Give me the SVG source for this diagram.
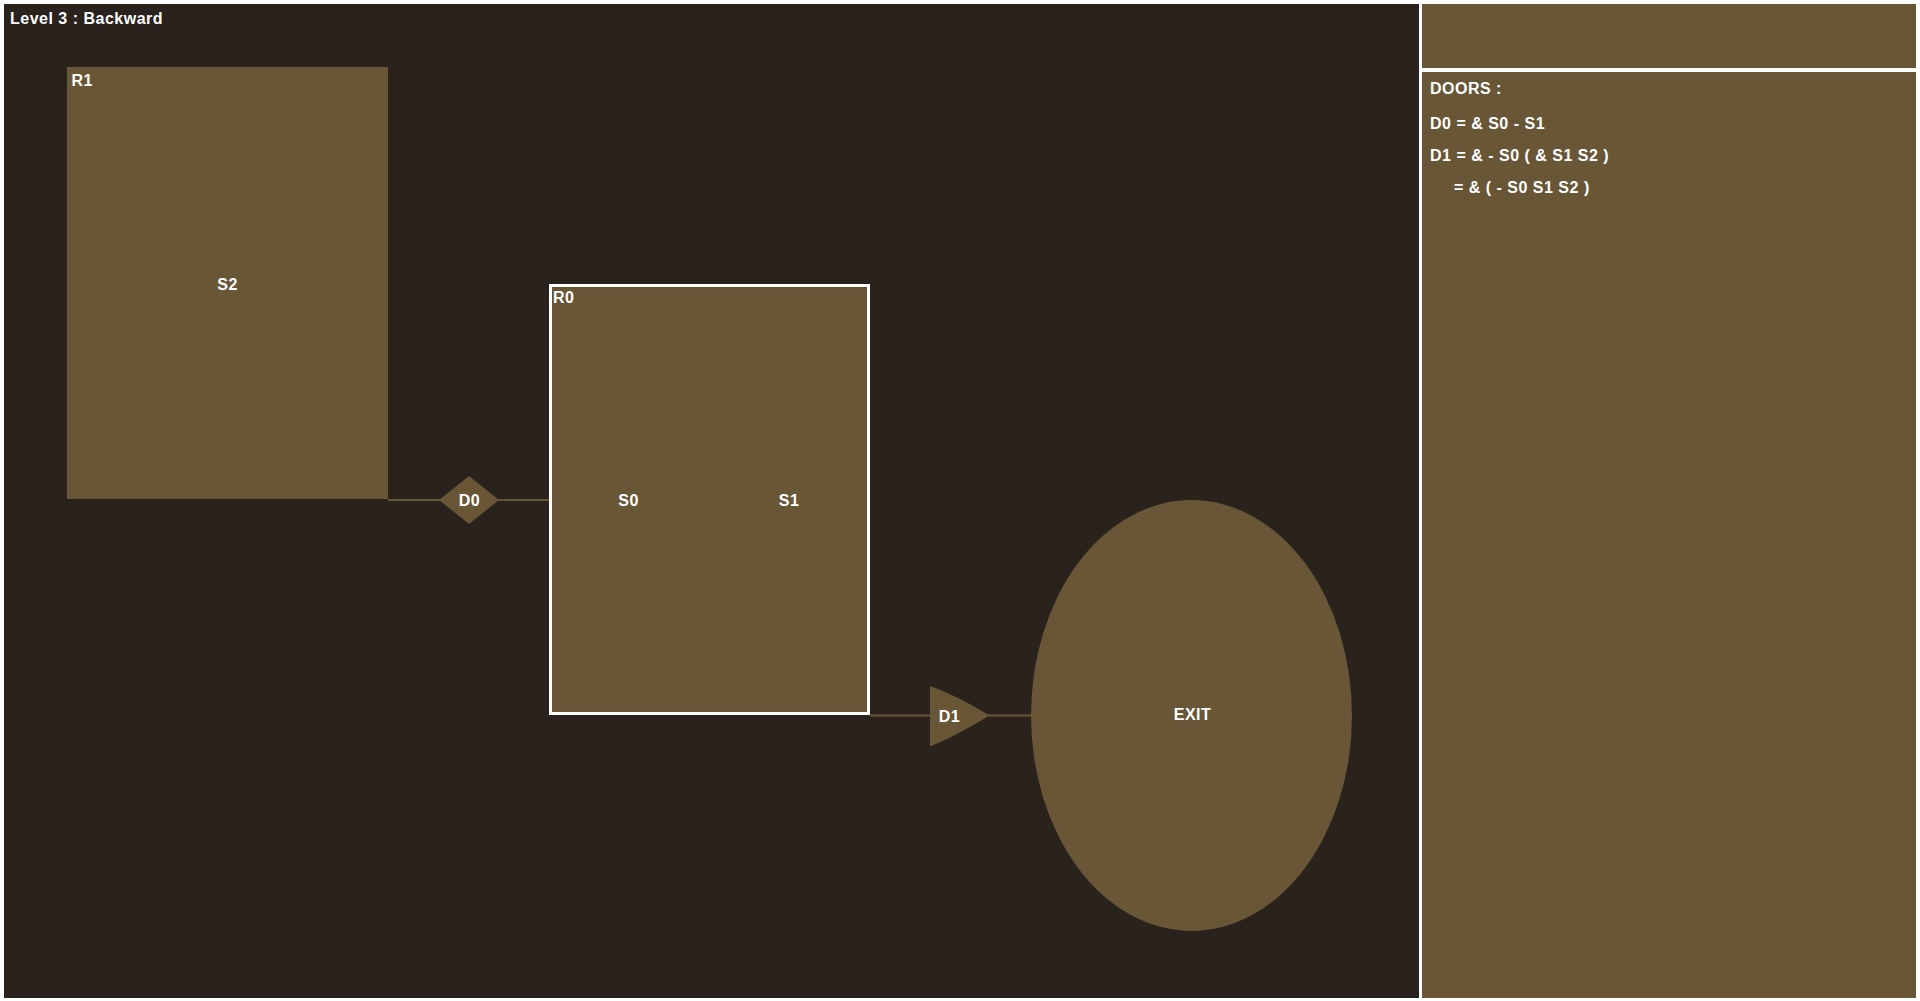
<svg xmlns="http://www.w3.org/2000/svg" width="1920" height="1001" viewBox="0 0 1920 1001">
<style>
text{font-family:"Liberation Sans",Arial,sans-serif;font-weight:bold;font-size:16px;fill:#ffffff;letter-spacing:0.5px}
.c{text-anchor:middle}
.room{fill:#685637}
.line{stroke:#685637;stroke-width:2;fill:none}
</style>
<rect x="0" y="0" width="1920" height="1001" fill="#ffffff"/>
<g id="canvas">
<rect x="4" y="4" width="1415" height="994" fill="#2a221d"/>
<text x="10" y="24">Level 3 : Backward</text>
</g>
<g id="panel-top"><rect x="1422" y="4" width="494" height="64" class="room"/></g>
<g id="panel-doors">
<rect x="1422" y="72" width="494" height="926" class="room"/>
<text x="1430" y="94">DOORS :</text>
<text x="1430" y="129">D0 = &amp; S0 - S1</text>
<text x="1430" y="161">D1 = &amp; - S0 ( &amp; S1 S2 )</text>
<text x="1454" y="193">= &amp; ( - S0 S1 S2 )</text>
</g>
<g id="connectors">
<line class="line" x1="388" y1="500" x2="440" y2="500"/>
<line class="line" x1="498" y1="500" x2="550" y2="500"/>
<line class="line" x1="870" y1="715.5" x2="931" y2="715.5"/>
<line class="line" x1="988" y1="715.5" x2="1032" y2="715.5"/>
</g>
<g id="R1">
<rect x="67" y="67" width="321" height="432" class="room"/>
<text x="71.5" y="86">R1</text>
<text class="c" x="227.5" y="289.5">S2</text>
</g>
<g id="R0">
<rect x="550.5" y="285.5" width="318" height="428" class="room" stroke="#ffffff" stroke-width="3"/>
<text x="553" y="303">R0</text>
<text class="c" x="628.5" y="506">S0</text>
<text class="c" x="789" y="506">S1</text>
</g>
<g id="D0">
<polygon points="439,500 469,476 499,500 469,524" class="room"/>
<text class="c" x="469.5" y="506">D0</text>
</g>
<g id="D1">
<path d="M930,686 Q956,695 989.5,715.5 Q956,736 930,746.5 Z" class="room"/>
<text class="c" x="949.5" y="722">D1</text>
</g>
<g id="EXIT">
<ellipse cx="1191.5" cy="715.5" rx="160.5" ry="215.5" class="room"/>
<text class="c" x="1192.5" y="720">EXIT</text>
</g>
</svg>
